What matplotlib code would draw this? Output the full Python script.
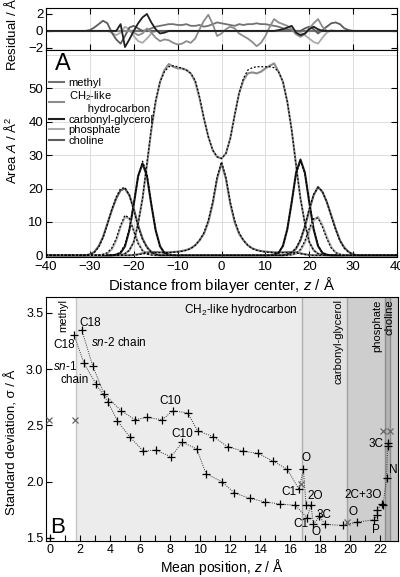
import numpy as np
import matplotlib
matplotlib.use("Agg")
import matplotlib.pyplot as plt

plt.rcParams["font.family"] = ["Liberation Sans", "DejaVu Sans"]
plt.rcParams["mathtext.fontset"] = "custom"
plt.rcParams["mathtext.rm"] = "Liberation Sans"
plt.rcParams["mathtext.it"] = "Liberation Sans:italic"
plt.rcParams["font.size"] = 9.5

# ---- panel A : area profiles (solid = simulation, dotted = fit), z grid -40..40 step 1
z_area = np.arange(-40, 41)

ch2_z0 = -22
ch2 = [0.5, 1.5, 4, 9.6, 17, 27, 37.5, 46, 52, 55.5, 57.3, 56.5, 56, 56, 55.5, 54.5, 52, 47, 41, 35.5,
       31.5, 29.5, 29, 30.5, 35, 42, 48.5, 52.5, 54.5, 54.8, 54.5, 55, 56, 56.8, 57.5, 55, 52, 46, 37.5, 27,
       17, 9.6, 4, 1.5, 0.5, 0.2]
ch2_fit = [0.5, 1.5, 4, 9.5, 17, 27.5, 38, 46.5, 52, 55, 56.5, 56.8, 56.5, 56, 55.5, 54.5, 52.5, 47.5, 41, 35.5,
           31.5, 29.5, 29, 30.5, 35, 42, 48.5, 53, 55.5, 56.2, 56.5, 56.5, 56.5, 56.5, 56.2, 55, 52, 46, 37.5, 27,
           17, 9.6, 4, 1.5, 0.5, 0.2]

methyl_z0 = -20
methyl = [0.1, 0.3, 0.6, 0.9, 1.0, 1.0, 0.9, 0.9, 0.9, 1.0, 1.1, 1.3, 1.6, 2.1, 3.0, 4.5, 6.5, 10, 15.5, 23,
          27.6, 23, 15.5, 10, 6.5, 4.5, 3.0, 2.1, 1.6, 1.3, 1.1, 1.0, 0.9, 0.9, 0.9, 1.0, 1.0, 0.9, 0.6, 0.3, 0.1]
methyl_fit = [0.1, 0.2, 0.4, 0.6, 0.7, 0.8, 0.8, 0.8, 0.8, 0.9, 1.0, 1.2, 1.5, 2.0, 3.0, 4.5, 6.8, 10.5, 16, 23.5,
              28, 23.5, 16, 10.5, 6.8, 4.5, 3.0, 2.0, 1.5, 1.2, 1.0, 0.9, 0.8, 0.8, 0.8, 0.8, 0.8, 0.7, 0.5, 0.3, 0.1]

carb_z0 = -24
carb = ([0.2, 0.7, 2.7, 7.5, 15.2, 23.8, 27.5, 23.8, 15.2, 7.5, 2.7, 0.7, 0.2, 0.05] + [0] * 21 +
        [0.05, 0.2, 0.7, 2.8, 7.8, 15.9, 24.8, 28.7, 24.8, 15.9, 7.8, 2.8, 0.7, 0.2])
carb_fit = ([0.3, 1.0, 3.2, 8.0, 15.5, 23.5, 28.2, 24.5, 15.5, 7.2, 2.5, 0.7, 0.2, 0.05] + [0] * 21 +
            [0.05, 0.2, 0.8, 3.0, 8.0, 16, 24.5, 28.2, 24.5, 16.2, 8.2, 3.0, 0.8, 0.2])

chol_z0 = -30
chol = ([0.3, 1, 2.7, 5.5, 9.5, 13.5, 17, 19.5, 20, 18, 14, 9, 5, 2.5, 1, 0.3] + [0] * 29 +
        [0.3, 0.8, 2, 4.5, 8.5, 13.5, 18, 20.5, 19, 16, 12, 8, 4.5, 2.3, 1, 0.3])
chol_fit = ([0.2, 0.8, 2.4, 5.2, 9.3, 13.8, 17.5, 20, 20.3, 18, 13.5, 8.5, 4.8, 2.3, 1, 0.3] + [0] * 29 +
            [0.3, 0.9, 2.2, 4.8, 9, 14, 18.3, 20.3, 19.2, 16, 11.8, 7.7, 4.3, 2.1, 0.9, 0.3])

phos_z0 = -27
phos = ([0.2, 0.6, 1.8, 4.5, 8.5, 11.5, 11, 7.5, 3.8, 1.5, 0.5, 0.15] + [0] * 31 +
        [0.15, 0.5, 1.5, 3.8, 7.3, 10.5, 11.5, 9, 5.5, 2.5, 0.9, 0.3])
phos_fit = ([0.3, 0.8, 2.2, 5, 9, 12, 11.2, 7.2, 3.5, 1.3, 0.4, 0.1] + [0] * 31 +
            [0.2, 0.6, 1.8, 4.3, 8, 11, 11.2, 8.5, 5, 2.2, 0.8, 0.3])

# residuals
res_methyl_z0 = -18
res_methyl = [0, 0.1, 0.3, 0.5, 0.6, 0.7, 0.8, 0.8, 0.7, 0.7, 0.8, 0.6, 0.6, 0.7, 0.5, 0.6, 0.8, 1.0, 0.9,
              0.8, 0.7, 0.6, 0.8, 0.7, 0.8, 0.8, 0.9, 0.8, 0.8, 0.7, 0.6, 0.5, 0.3, 0.2, 0.1, 0, 0]
res_ch2_z0 = -21
res_ch2 = [0, -0.2, -0.5, -0.3, 0.3, -0.2, -0.8, -1.2, -1.0, -1.1, -1.4, -1.6, -1.5, -1.2, -1.4, -0.9, 0.2,
           1.2, 1.9, 0.8, -0.6, -0.3, 0.2, 0.5, 0.3, -0.3, -0.6, -0.9, -1.3, -1.8, -1.4, -0.6, 0.5, 1.4, 1.0,
           0.8, 0.6, 0.2, -0.4, -0.7, -0.4, 0.3, 0.9, 1.4, 0.5, 0]
res_carb_z0 = -24
res_carb = ([0, 0.8, -1.9, -1.0, 0.0, 0.9, 1.6, 2.0, 1.0, 0.2, -0.3, -0.2, 0] + [0] * 24 +
            [0.1, 0.2, 0.4, 0.6, -0.2, -0.5, -0.3, 0.2, 0.5, 0.2, 0, 0])
res_phos_z0 = -26
res_phos = ([0, -0.2, -0.5, -0.2, 0.5, 0.2, -0.6, -1.2, -1.4, -0.9, -0.3, 0] + [0] * 31 +
            [0, -0.2, -0.5, -0.9, -1.3, -1.5, -0.8, -0.2, 0.1, 0])
res_chol_z0 = -31
res_chol = ([0, 0.1, 0.4, 0.8, 1.2, 0.9, -0.2, -1.0, -1.5, -0.6, 0.4, 0.6, 0.3, 0, 0] + [0] * 34 +
            [0, 0.3, 0.5, 0.2, -0.3, 0.1, 0.5, 0.9, 1.0, 0.8, 0.3, 0.1, 0])

# ---- panel B : mean position vs standard deviation
sn1_z = [1.6, 2.27, 3.05, 3.85, 4.49, 5.3, 6.22, 7.04, 8.07, 8.82, 9.78, 10.4, 11.44, 12.29, 13.33, 14.33,
         15.33, 16.35, 17.13]
sn1_s = [3.30, 3.05, 2.87, 2.71, 2.54, 2.40, 2.27, 2.28, 2.22, 2.35, 2.29, 2.07, 2.00, 1.90, 1.85, 1.82,
         1.80, 1.79, 1.68]
sn2_z = [2.11, 2.84, 3.6, 4.73, 5.67, 6.44, 7.49, 8.18, 9.18, 9.84, 10.89, 11.84, 12.89, 13.89, 14.89,
         15.82, 16.6, 16.89]
sn2_s = [3.35, 3.03, 2.78, 2.63, 2.55, 2.57, 2.55, 2.63, 2.61, 2.45, 2.40, 2.31, 2.27, 2.25, 2.18, 2.11,
         1.93, 2.11]
head_z = [17.07, 17.4, 17.56, 17.96, 18.33, 19.51, 20.44, 21.6, 21.82, 21.82, 22.1, 22.2, 22.44, 22.5, 22.52]
head_s = [1.79, 1.79, 1.62, 1.69, 1.62, 1.61, 1.64, 1.66, 1.70, 1.75, 1.80, 1.79, 2.03, 2.32, 2.34]
xm_z = [-0.04, 1.64, 16.71, 19.78, 22.18, 22.67]
xm_s = [2.55, 2.55, 1.98, 1.64, 2.45, 2.45]
corner_z = [0.0]
corner_s = [1.50]

regions = [1.7, 16.8, 19.8, 22.3, 22.65, 23.3]
region_cols = ["#ececec", "#e2e2e2", "#cecece", "#b4b4b4", "#c8c8c8"]


def place(z0, vals):
    y = np.zeros(len(z_area))
    i = int(z0 - z_area[0])
    y[i:i + len(vals)] = vals
    return y


fig = plt.figure(figsize=(4, 5.77), dpi=100)
axr = fig.add_axes([0.115, 0.9133, 0.8775, 0.0728])
axa = fig.add_axes([0.115, 0.5546, 0.8775, 0.3587])
axb = fig.add_axes([0.115, 0.062, 0.88, 0.4232])

cols = {"methyl": "#727272", "ch2": "#8c8c8c", "carb": "#1e1e1e", "phos": "#ababab", "chol": "#5c5c5c"}

# residual panel
for xv in range(-30, 31, 10):
    axr.axvline(xv, color="#dddddd", lw=0.7, zorder=0)
axr.axhline(0, color="#888888", lw=1.6, zorder=1)
axr.plot(z_area, place(res_methyl_z0, res_methyl), color=cols["methyl"], lw=1.3)
axr.plot(z_area, place(res_phos_z0, res_phos), color=cols["phos"], lw=1.3)
axr.plot(z_area, place(res_chol_z0, res_chol), color=cols["chol"], lw=1.3)
axr.plot(z_area, place(res_ch2_z0, res_ch2), color=cols["ch2"], lw=1.3)
axr.plot(z_area, place(res_carb_z0, res_carb), color=cols["carb"], lw=1.3)
axr.set_xlim(-40, 40)
axr.set_ylim(-2.25, 2.7)
axr.set_yticks([-2, 0, 2])
axr.set_xticks(range(-40, 41, 10))
axr.tick_params(direction="in", top=True, right=True, labelbottom=False, length=4, width=0.8, pad=2)

# area panel
for xv in range(-30, 31, 10):
    axa.axvline(xv, color="#dddddd", lw=0.7, zorder=0)
for yv in range(10, 61, 10):
    axa.axhline(yv, color="#dddddd", lw=0.7, zorder=0)
series = [("methyl", methyl_z0, methyl, methyl_fit, "methyl"),
          ("ch2", ch2_z0, ch2, ch2_fit, "CH$_2$-like\n      hydrocarbon"),
          ("carb", carb_z0, carb, carb_fit, "carbonyl-glycerol"),
          ("phos", phos_z0, phos, phos_fit, "phosphate"),
          ("chol", chol_z0, chol, chol_fit, "choline")]
for key, z0, vals, fit, lab in series:
    axa.plot(z_area, place(z0, vals), color=cols[key], lw=1.5, label=lab, zorder=2)
for key, z0, vals, fit, lab in series:
    axa.plot(z_area, place(z0, fit), color="black", lw=0.9, ls=(0, (1.5, 1.5)), zorder=3)
axa.set_xlim(-40, 40)
axa.set_ylim(-0.5, 61.5)
axa.set_xticks(range(-40, 41, 10))
axa.set_yticks(range(0, 51, 10))
axa.tick_params(direction="in", right=True, length=4, width=0.8, pad=2)
axa.tick_params(axis="x", pad=3)
leg = axa.legend(loc="upper left", bbox_to_anchor=(-0.005, 0.885), frameon=False, fontsize=8,
                 handlelength=1.4, handletextpad=0.4, labelspacing=0.05, borderaxespad=0)
axa.text(0.025, 0.985, "A", transform=axa.transAxes, fontsize=17, va="top", ha="left")
axa.set_xlabel("Distance from bilayer center, $z$ / Å", fontsize=10.8, labelpad=1)

fig.text(0.028, 1 - 32 / 577, "Residual / Å$^2$", rotation=90, va="center", ha="center", fontsize=9.5)
fig.text(0.028, 1 - 150 / 577, "Area $A$ / Å$^2$", rotation=90, va="center", ha="center", fontsize=9.5)

# panel B
for i in range(len(region_cols)):
    axb.axvspan(regions[i], regions[i + 1], color=region_cols[i], lw=0, zorder=0)
for xv, c in zip(regions[:-1], ["#c4c4c4", "#b0b0b0", "#a2a2a2", "#8c8c8c", "#8c8c8c"]):
    axb.axvline(xv, color=c, lw=1.0, zorder=1)

dot = dict(color="#333333", lw=0.7, ls=(0, (1, 1.3)), zorder=2)
axb.plot(sn1_z, sn1_s, **dot)
axb.plot(sn2_z, sn2_s, **dot)
axb.plot([sn2_z[-1]] + head_z, [sn2_s[-1]] + head_s, **dot)
axb.plot([sn1_z[-1], head_z[1]], [sn1_s[-1], head_s[1]], **dot)
pm = dict(ls="none", marker="+", ms=6, mew=0.9, color="black", zorder=4)
axb.plot(sn1_z, sn1_s, **pm)
axb.plot(sn2_z, sn2_s, **pm)
axb.plot(head_z, head_s, **pm)
axb.plot(corner_z, corner_s, **pm)
axb.plot(xm_z, xm_s, ls="none", marker="x", ms=4, mew=0.9, color="#666666", zorder=4)

axb.set_xlim(-0.27, 23.2)
axb.set_ylim(1.47, 3.64)
axb.set_xticks(range(0, 23, 2))
axb.set_xticks(range(1, 23, 2), minor=True)
axb.set_yticks([1.5, 2.0, 2.5, 3.0, 3.5])
axb.tick_params(which="both", direction="in", length=4, width=0.8, pad=2, labelsize=9)
axb.set_xlabel("Mean position, $z$ / Å", fontsize=10, labelpad=0.5)
fig.text(0.03, 1 - 442 / 577, "Standard deviation, σ / Å", rotation=90, va="center", ha="center", fontsize=9.5)

fs = 8.5
axb.text(0.85, 3.62, "methyl", rotation=90, va="top", ha="center", fontsize=8)
axb.text(16.5, 3.60, "CH$_2$-like hydrocarbon", va="top", ha="right", fontsize=fs)
axb.text(19.25, 3.62, "carbonyl-glycerol", rotation=90, va="top", ha="center", fontsize=8)
axb.text(21.8, 3.62, "phosphate", rotation=90, va="top", ha="center", fontsize=8)
axb.text(22.6, 3.62, "choline", rotation=90, va="top", ha="center", fontsize=8)

axb.text(2.65, 3.41, "C18", ha="center", va="center", fontsize=fs)
axb.text(2.7, 3.24, "$sn$-2 chain", ha="left", va="center", fontsize=fs)
axb.text(0.2, 3.21, "C18", ha="left", va="center", fontsize=fs)
axb.text(0.2, 3.02, "$sn$-1", ha="left", va="center", fontsize=fs)
axb.text(0.73, 2.90, "chain", ha="left", va="center", fontsize=fs)
axb.text(8.0, 2.72, "C10", ha="center", va="center", fontsize=fs)
axb.text(8.8, 2.42, "C10", ha="center", va="center", fontsize=fs)
axb.text(17.05, 2.21, "O", ha="center", va="center", fontsize=fs)
axb.text(16.45, 1.91, "C1", ha="right", va="center", fontsize=fs)
axb.text(17.7, 1.87, "2O", ha="center", va="center", fontsize=fs)
axb.text(18.3, 1.70, "3C", ha="center", va="center", fontsize=fs)
axb.text(16.75, 1.62, "C1", ha="center", va="center", fontsize=fs)
axb.text(17.7, 1.55, "O", ha="center", va="center", fontsize=fs)
axb.text(20.2, 1.73, "O", ha="center", va="center", fontsize=fs)
axb.text(20.9, 1.88, "2C+3O", ha="center", va="center", fontsize=fs)
axb.text(21.7, 1.57, "P", ha="center", va="center", fontsize=fs)
axb.text(22.9, 2.10, "N", ha="center", va="center", fontsize=fs)
axb.text(22.25, 2.33, "3C", ha="right", va="center", fontsize=fs)
axb.text(0.012, 0.015, "B", transform=axb.transAxes, fontsize=16, va="bottom", ha="left")

fig.savefig("out.png", dpi=100)
